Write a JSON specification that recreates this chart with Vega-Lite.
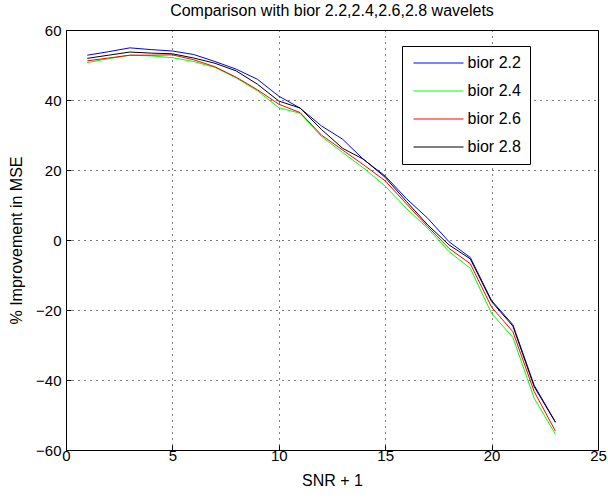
{
  "$schema": "https://vega.github.io/schema/vega-lite/v6.json",
  "width": 532,
  "height": 420,
  "autosize": "none",
  "padding": {"left": 66, "top": 30, "right": 10, "bottom": 48},
  "background": "white",
  "title": {"text": "Comparison with bior 2.2,2.4,2.6,2.8 wavelets", "font": "Liberation Sans", "fontSize": 16, "fontWeight": "normal", "color": "black", "offset": 4},
  "config": {
    "view": {"stroke": "black", "strokeWidth": 1},
    "font": "Liberation Sans"
  },
  "data": {"values": [
    {"snr": 1, "s": "bior 2.2", "v": 52.8}, {"snr": 2, "s": "bior 2.2", "v": 53.8}, {"snr": 3, "s": "bior 2.2", "v": 54.9}, {"snr": 4, "s": "bior 2.2", "v": 54.4}, {"snr": 5, "s": "bior 2.2", "v": 54.0}, {"snr": 6, "s": "bior 2.2", "v": 53.0}, {"snr": 7, "s": "bior 2.2", "v": 51.0}, {"snr": 8, "s": "bior 2.2", "v": 48.8}, {"snr": 9, "s": "bior 2.2", "v": 45.9}, {"snr": 10, "s": "bior 2.2", "v": 41.1}, {"snr": 11, "s": "bior 2.2", "v": 37.7}, {"snr": 12, "s": "bior 2.2", "v": 32.6}, {"snr": 13, "s": "bior 2.2", "v": 28.8}, {"snr": 14, "s": "bior 2.2", "v": 22.9}, {"snr": 15, "s": "bior 2.2", "v": 18.3}, {"snr": 16, "s": "bior 2.2", "v": 11.8}, {"snr": 17, "s": "bior 2.2", "v": 6.2}, {"snr": 18, "s": "bior 2.2", "v": -0.5}, {"snr": 19, "s": "bior 2.2", "v": -5.0}, {"snr": 20, "s": "bior 2.2", "v": -17.3}, {"snr": 21, "s": "bior 2.2", "v": -24.2}, {"snr": 22, "s": "bior 2.2", "v": -41.5}, {"snr": 23, "s": "bior 2.2", "v": -52.0},
    {"snr": 1, "s": "bior 2.4", "v": 50.7}, {"snr": 2, "s": "bior 2.4", "v": 51.8}, {"snr": 3, "s": "bior 2.4", "v": 52.8}, {"snr": 4, "s": "bior 2.4", "v": 52.6}, {"snr": 5, "s": "bior 2.4", "v": 52.1}, {"snr": 6, "s": "bior 2.4", "v": 51.0}, {"snr": 7, "s": "bior 2.4", "v": 49.3}, {"snr": 8, "s": "bior 2.4", "v": 46.3}, {"snr": 9, "s": "bior 2.4", "v": 42.6}, {"snr": 10, "s": "bior 2.4", "v": 37.8}, {"snr": 11, "s": "bior 2.4", "v": 36.2}, {"snr": 12, "s": "bior 2.4", "v": 29.6}, {"snr": 13, "s": "bior 2.4", "v": 25.0}, {"snr": 14, "s": "bior 2.4", "v": 20.5}, {"snr": 15, "s": "bior 2.4", "v": 15.4}, {"snr": 16, "s": "bior 2.4", "v": 9.0}, {"snr": 17, "s": "bior 2.4", "v": 3.3}, {"snr": 18, "s": "bior 2.4", "v": -3.3}, {"snr": 19, "s": "bior 2.4", "v": -8.1}, {"snr": 20, "s": "bior 2.4", "v": -21.0}, {"snr": 21, "s": "bior 2.4", "v": -27.8}, {"snr": 22, "s": "bior 2.4", "v": -45.2}, {"snr": 23, "s": "bior 2.4", "v": -55.5},
    {"snr": 1, "s": "bior 2.6", "v": 51.2}, {"snr": 2, "s": "bior 2.6", "v": 52.0}, {"snr": 3, "s": "bior 2.6", "v": 52.8}, {"snr": 4, "s": "bior 2.6", "v": 52.8}, {"snr": 5, "s": "bior 2.6", "v": 52.9}, {"snr": 6, "s": "bior 2.6", "v": 51.5}, {"snr": 7, "s": "bior 2.6", "v": 49.5}, {"snr": 8, "s": "bior 2.6", "v": 46.5}, {"snr": 9, "s": "bior 2.6", "v": 42.9}, {"snr": 10, "s": "bior 2.6", "v": 38.8}, {"snr": 11, "s": "bior 2.6", "v": 36.4}, {"snr": 12, "s": "bior 2.6", "v": 30.0}, {"snr": 13, "s": "bior 2.6", "v": 25.7}, {"snr": 14, "s": "bior 2.6", "v": 21.4}, {"snr": 15, "s": "bior 2.6", "v": 16.9}, {"snr": 16, "s": "bior 2.6", "v": 10.3}, {"snr": 17, "s": "bior 2.6", "v": 3.8}, {"snr": 18, "s": "bior 2.6", "v": -2.4}, {"snr": 19, "s": "bior 2.6", "v": -6.8}, {"snr": 20, "s": "bior 2.6", "v": -19.2}, {"snr": 21, "s": "bior 2.6", "v": -26.2}, {"snr": 22, "s": "bior 2.6", "v": -43.3}, {"snr": 23, "s": "bior 2.6", "v": -54.6},
    {"snr": 1, "s": "bior 2.8", "v": 51.9}, {"snr": 2, "s": "bior 2.8", "v": 52.8}, {"snr": 3, "s": "bior 2.8", "v": 53.7}, {"snr": 4, "s": "bior 2.8", "v": 53.4}, {"snr": 5, "s": "bior 2.8", "v": 53.2}, {"snr": 6, "s": "bior 2.8", "v": 52.0}, {"snr": 7, "s": "bior 2.8", "v": 50.5}, {"snr": 8, "s": "bior 2.8", "v": 48.3}, {"snr": 9, "s": "bior 2.8", "v": 44.5}, {"snr": 10, "s": "bior 2.8", "v": 39.7}, {"snr": 11, "s": "bior 2.8", "v": 37.7}, {"snr": 12, "s": "bior 2.8", "v": 31.6}, {"snr": 13, "s": "bior 2.8", "v": 26.2}, {"snr": 14, "s": "bior 2.8", "v": 23.0}, {"snr": 15, "s": "bior 2.8", "v": 17.9}, {"snr": 16, "s": "bior 2.8", "v": 11.0}, {"snr": 17, "s": "bior 2.8", "v": 4.3}, {"snr": 18, "s": "bior 2.8", "v": -1.4}, {"snr": 19, "s": "bior 2.8", "v": -5.4}, {"snr": 20, "s": "bior 2.8", "v": -17.6}, {"snr": 21, "s": "bior 2.8", "v": -24.6}, {"snr": 22, "s": "bior 2.8", "v": -41.9}, {"snr": 23, "s": "bior 2.8", "v": -52.1}
  ]},
  "mark": {"type": "line", "strokeWidth": 1, "clip": true},
  "encoding": {
    "x": {"field": "snr", "type": "quantitative", "title": "SNR + 1",
      "scale": {"domain": [0, 25], "nice": false, "zero": false},
      "axis": {"values": [0, 5, 10, 15, 20, 25], "format": "d", "grid": true, "gridColor": "black", "gridDash": [1, 5], "gridOpacity": 1, "gridWidth": 1, "domainColor": "black", "tickColor": "black", "tickSize": -5, "labelPadding": 3, "labelFont": "Liberation Sans", "labelFontSize": 15, "labelColor": "black", "titleFont": "Liberation Sans", "titleFontSize": 16, "titleFontWeight": "normal", "titleColor": "black", "titlePadding": 9, "labelFlush": false}},
    "y": {"field": "v", "type": "quantitative", "title": "% Improvement in MSE",
      "scale": {"domain": [-60, 60], "nice": false, "zero": false},
      "axis": {"values": [-60, -40, -20, 0, 20, 40, 60], "grid": true, "gridColor": "black", "gridDash": [1, 5], "gridOpacity": 1, "gridWidth": 1, "domainColor": "black", "tickColor": "black", "tickSize": -5, "labelPadding": 10, "labelFont": "Liberation Sans", "labelFontSize": 15, "labelColor": "black", "titleFont": "Liberation Sans", "titleFontSize": 16, "titleFontWeight": "normal", "titleColor": "black", "titlePadding": 11}},
    "color": {"field": "s", "type": "nominal", "title": null,
      "scale": {"domain": ["bior 2.2", "bior 2.4", "bior 2.6", "bior 2.8"], "range": ["#0000ff", "#00ff00", "#ff0000", "#000000"]},
      "legend": {"orient": "none", "legendX": 336, "legendY": 16, "symbolType": "M-5,0H5", "symbolSize": 100, "symbolStrokeWidth": 1, "symbolOffset": 19.5, "fillColor": "white", "strokeColor": "black", "padding": 9, "rowPadding": 12, "labelFont": "Liberation Sans", "labelFontSize": 16, "labelColor": "black", "labelOffset": 21, "cornerRadius": 0}}
  }
}
